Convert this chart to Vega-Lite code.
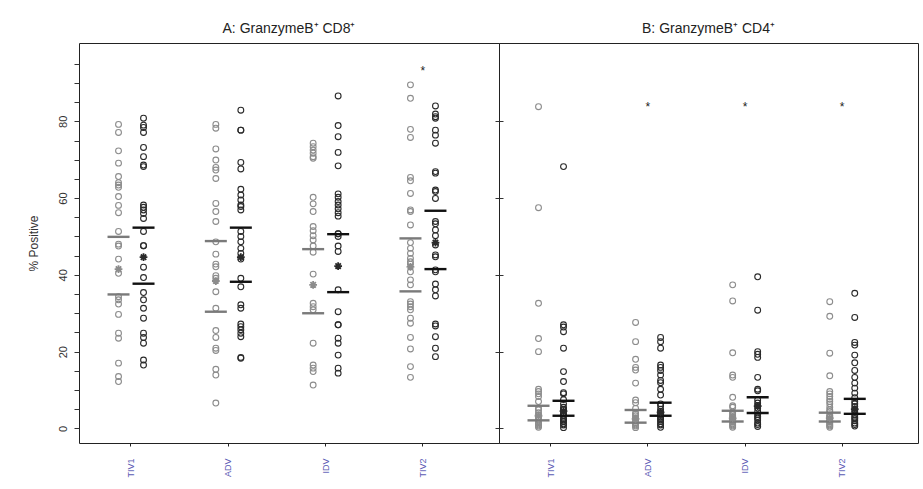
{
"$schema": "https://vega.github.io/schema/vega-lite/v6.json",
"background": "white",
"padding": {"left": 26, "top": 21, "right": 4, "bottom": 4},
"spacing": 0,
"bounds": "flush",
"datasets": {
"ptsA": [
{"group":"TIV1","series":"grey","value":79.2},{"group":"TIV1","series":"grey","value":77.1},{"group":"TIV1","series":"grey","value":72.3},{"group":"TIV1","series":"grey","value":69.1},{"group":"TIV1","series":"grey","value":65.6},{"group":"TIV1","series":"grey","value":64.0},{"group":"TIV1","series":"grey","value":63.4},{"group":"TIV1","series":"grey","value":62.8},{"group":"TIV1","series":"grey","value":60.4},{"group":"TIV1","series":"grey","value":58.1},{"group":"TIV1","series":"grey","value":56.2},{"group":"TIV1","series":"grey","value":51.3},{"group":"TIV1","series":"grey","value":48.0},{"group":"TIV1","series":"grey","value":47.5},{"group":"TIV1","series":"grey","value":44.1},{"group":"TIV1","series":"grey","value":40.4},{"group":"TIV1","series":"grey","value":34.3},{"group":"TIV1","series":"grey","value":33.5},{"group":"TIV1","series":"grey","value":32.4},{"group":"TIV1","series":"grey","value":29.7},{"group":"TIV1","series":"grey","value":24.8},{"group":"TIV1","series":"grey","value":23.5},{"group":"TIV1","series":"grey","value":17.0},{"group":"TIV1","series":"grey","value":13.5},{"group":"TIV1","series":"grey","value":12.2},
{"group":"TIV1","series":"black","value":80.8},{"group":"TIV1","series":"black","value":79.0},{"group":"TIV1","series":"black","value":78.4},{"group":"TIV1","series":"black","value":77.1},{"group":"TIV1","series":"black","value":73.2},{"group":"TIV1","series":"black","value":70.8},{"group":"TIV1","series":"black","value":68.6},{"group":"TIV1","series":"black","value":68.2},{"group":"TIV1","series":"black","value":58.2},{"group":"TIV1","series":"black","value":57.6},{"group":"TIV1","series":"black","value":56.9},{"group":"TIV1","series":"black","value":56.0},{"group":"TIV1","series":"black","value":54.7},{"group":"TIV1","series":"black","value":51.3},{"group":"TIV1","series":"black","value":47.6},{"group":"TIV1","series":"black","value":47.6},{"group":"TIV1","series":"black","value":42.0},{"group":"TIV1","series":"black","value":39.3},{"group":"TIV1","series":"black","value":35.4},{"group":"TIV1","series":"black","value":33.5},{"group":"TIV1","series":"black","value":31.3},{"group":"TIV1","series":"black","value":28.7},{"group":"TIV1","series":"black","value":24.8},{"group":"TIV1","series":"black","value":23.7},{"group":"TIV1","series":"black","value":22.2},{"group":"TIV1","series":"black","value":17.8},{"group":"TIV1","series":"black","value":16.5},
{"group":"ADV","series":"grey","value":79.2},{"group":"ADV","series":"grey","value":78.2},{"group":"ADV","series":"grey","value":72.8},{"group":"ADV","series":"grey","value":69.9},{"group":"ADV","series":"grey","value":68.0},{"group":"ADV","series":"grey","value":67.3},{"group":"ADV","series":"grey","value":65.1},{"group":"ADV","series":"grey","value":58.6},{"group":"ADV","series":"grey","value":56.5},{"group":"ADV","series":"grey","value":53.9},{"group":"ADV","series":"grey","value":48.6},{"group":"ADV","series":"grey","value":45.4},{"group":"ADV","series":"grey","value":42.8},{"group":"ADV","series":"grey","value":42.1},{"group":"ADV","series":"grey","value":39.8},{"group":"ADV","series":"grey","value":39.1},{"group":"ADV","series":"grey","value":35.6},{"group":"ADV","series":"grey","value":31.3},{"group":"ADV","series":"grey","value":25.5},{"group":"ADV","series":"grey","value":23.7},{"group":"ADV","series":"grey","value":20.9},{"group":"ADV","series":"grey","value":20.3},{"group":"ADV","series":"grey","value":15.4},{"group":"ADV","series":"grey","value":13.9},{"group":"ADV","series":"grey","value":6.6},
{"group":"ADV","series":"black","value":82.9},{"group":"ADV","series":"black","value":77.7},{"group":"ADV","series":"black","value":77.7},{"group":"ADV","series":"black","value":69.3},{"group":"ADV","series":"black","value":67.6},{"group":"ADV","series":"black","value":62.3},{"group":"ADV","series":"black","value":60.8},{"group":"ADV","series":"black","value":59.5},{"group":"ADV","series":"black","value":58.2},{"group":"ADV","series":"black","value":57.8},{"group":"ADV","series":"black","value":56.9},{"group":"ADV","series":"black","value":51.3},{"group":"ADV","series":"black","value":50.0},{"group":"ADV","series":"black","value":48.6},{"group":"ADV","series":"black","value":46.9},{"group":"ADV","series":"black","value":45.6},{"group":"ADV","series":"black","value":44.1},{"group":"ADV","series":"black","value":39.1},{"group":"ADV","series":"black","value":36.9},{"group":"ADV","series":"black","value":32.2},{"group":"ADV","series":"black","value":31.3},{"group":"ADV","series":"black","value":27.2},{"group":"ADV","series":"black","value":26.5},{"group":"ADV","series":"black","value":25.7},{"group":"ADV","series":"black","value":24.8},{"group":"ADV","series":"black","value":23.9},{"group":"ADV","series":"black","value":18.5},{"group":"ADV","series":"black","value":18.3},
{"group":"IDV","series":"grey","value":74.3},{"group":"IDV","series":"grey","value":73.4},{"group":"IDV","series":"grey","value":72.5},{"group":"IDV","series":"grey","value":71.7},{"group":"IDV","series":"grey","value":70.8},{"group":"IDV","series":"grey","value":70.4},{"group":"IDV","series":"grey","value":60.2},{"group":"IDV","series":"grey","value":58.5},{"group":"IDV","series":"grey","value":56.5},{"group":"IDV","series":"grey","value":52.6},{"group":"IDV","series":"grey","value":51.5},{"group":"IDV","series":"grey","value":50.2},{"group":"IDV","series":"grey","value":49.1},{"group":"IDV","series":"grey","value":47.5},{"group":"IDV","series":"grey","value":45.9},{"group":"IDV","series":"grey","value":40.2},{"group":"IDV","series":"grey","value":32.6},{"group":"IDV","series":"grey","value":31.7},{"group":"IDV","series":"grey","value":30.9},{"group":"IDV","series":"grey","value":22.2},{"group":"IDV","series":"grey","value":16.5},{"group":"IDV","series":"grey","value":15.7},{"group":"IDV","series":"grey","value":14.8},{"group":"IDV","series":"grey","value":11.3},
{"group":"IDV","series":"black","value":86.6},{"group":"IDV","series":"black","value":78.9},{"group":"IDV","series":"black","value":76.0},{"group":"IDV","series":"black","value":71.9},{"group":"IDV","series":"black","value":68.4},{"group":"IDV","series":"black","value":61.1},{"group":"IDV","series":"black","value":60.2},{"group":"IDV","series":"black","value":59.1},{"group":"IDV","series":"black","value":58.2},{"group":"IDV","series":"black","value":57.2},{"group":"IDV","series":"black","value":56.2},{"group":"IDV","series":"black","value":55.3},{"group":"IDV","series":"black","value":50.7},{"group":"IDV","series":"black","value":50.7},{"group":"IDV","series":"black","value":50.0},{"group":"IDV","series":"black","value":47.5},{"group":"IDV","series":"black","value":46.1},{"group":"IDV","series":"black","value":36.1},{"group":"IDV","series":"black","value":30.4},{"group":"IDV","series":"black","value":27.0},{"group":"IDV","series":"black","value":27.0},{"group":"IDV","series":"black","value":23.5},{"group":"IDV","series":"black","value":22.2},{"group":"IDV","series":"black","value":19.1},{"group":"IDV","series":"black","value":15.7},{"group":"IDV","series":"black","value":14.4},
{"group":"TIV2","series":"grey","value":89.5},{"group":"TIV2","series":"grey","value":86.0},{"group":"TIV2","series":"grey","value":77.9},{"group":"TIV2","series":"grey","value":75.8},{"group":"TIV2","series":"grey","value":65.4},{"group":"TIV2","series":"grey","value":64.5},{"group":"TIV2","series":"grey","value":61.2},{"group":"TIV2","series":"grey","value":56.9},{"group":"TIV2","series":"grey","value":56.5},{"group":"TIV2","series":"grey","value":53.0},{"group":"TIV2","series":"grey","value":48.4},{"group":"TIV2","series":"grey","value":46.9},{"group":"TIV2","series":"grey","value":45.6},{"group":"TIV2","series":"grey","value":44.3},{"group":"TIV2","series":"grey","value":43.4},{"group":"TIV2","series":"grey","value":42.8},{"group":"TIV2","series":"grey","value":40.8},{"group":"TIV2","series":"grey","value":38.7},{"group":"TIV2","series":"grey","value":37.4},{"group":"TIV2","series":"grey","value":33.0},{"group":"TIV2","series":"grey","value":32.4},{"group":"TIV2","series":"grey","value":31.7},{"group":"TIV2","series":"grey","value":30.9},{"group":"TIV2","series":"grey","value":28.7},{"group":"TIV2","series":"grey","value":27.4},{"group":"TIV2","series":"grey","value":23.7},{"group":"TIV2","series":"grey","value":20.7},{"group":"TIV2","series":"grey","value":16.1},{"group":"TIV2","series":"grey","value":13.3},
{"group":"TIV2","series":"black","value":84.0},{"group":"TIV2","series":"black","value":81.9},{"group":"TIV2","series":"black","value":81.2},{"group":"TIV2","series":"black","value":80.8},{"group":"TIV2","series":"black","value":77.7},{"group":"TIV2","series":"black","value":76.4},{"group":"TIV2","series":"black","value":74.3},{"group":"TIV2","series":"black","value":66.9},{"group":"TIV2","series":"black","value":66.5},{"group":"TIV2","series":"black","value":62.1},{"group":"TIV2","series":"black","value":61.7},{"group":"TIV2","series":"black","value":59.9},{"group":"TIV2","series":"black","value":53.9},{"group":"TIV2","series":"black","value":53.3},{"group":"TIV2","series":"black","value":51.7},{"group":"TIV2","series":"black","value":50.2},{"group":"TIV2","series":"black","value":47.8},{"group":"TIV2","series":"black","value":45.2},{"group":"TIV2","series":"black","value":44.7},{"group":"TIV2","series":"black","value":41.3},{"group":"TIV2","series":"black","value":40.8},{"group":"TIV2","series":"black","value":37.6},{"group":"TIV2","series":"black","value":36.1},{"group":"TIV2","series":"black","value":34.5},{"group":"TIV2","series":"black","value":27.2},{"group":"TIV2","series":"black","value":26.7},{"group":"TIV2","series":"black","value":23.9},{"group":"TIV2","series":"black","value":20.9},{"group":"TIV2","series":"black","value":18.7}
],
"ptsB": [
{"group":"TIV1","series":"grey","value":83.8},{"group":"TIV1","series":"grey","value":57.5},{"group":"TIV1","series":"grey","value":32.6},{"group":"TIV1","series":"grey","value":23.4},{"group":"TIV1","series":"grey","value":20.0},{"group":"TIV1","series":"grey","value":10.2},{"group":"TIV1","series":"grey","value":9.6},{"group":"TIV1","series":"grey","value":9.0},{"group":"TIV1","series":"grey","value":8.3},{"group":"TIV1","series":"grey","value":7.0},{"group":"TIV1","series":"grey","value":5.3},{"group":"TIV1","series":"grey","value":4.8},{"group":"TIV1","series":"grey","value":4.1},{"group":"TIV1","series":"grey","value":3.5},{"group":"TIV1","series":"grey","value":3.0},{"group":"TIV1","series":"grey","value":2.9},{"group":"TIV1","series":"grey","value":2.2},{"group":"TIV1","series":"grey","value":1.5},{"group":"TIV1","series":"grey","value":1.2},{"group":"TIV1","series":"grey","value":0.9},{"group":"TIV1","series":"grey","value":0.6},{"group":"TIV1","series":"grey","value":0.3},
{"group":"TIV1","series":"black","value":68.2},{"group":"TIV1","series":"black","value":27.0},{"group":"TIV1","series":"black","value":26.4},{"group":"TIV1","series":"black","value":25.2},{"group":"TIV1","series":"black","value":20.9},{"group":"TIV1","series":"black","value":14.8},{"group":"TIV1","series":"black","value":12.2},{"group":"TIV1","series":"black","value":9.3},{"group":"TIV1","series":"black","value":9.0},{"group":"TIV1","series":"black","value":7.5},{"group":"TIV1","series":"black","value":6.4},{"group":"TIV1","series":"black","value":5.5},{"group":"TIV1","series":"black","value":5.0},{"group":"TIV1","series":"black","value":4.8},{"group":"TIV1","series":"black","value":4.1},{"group":"TIV1","series":"black","value":3.8},{"group":"TIV1","series":"black","value":3.3},{"group":"TIV1","series":"black","value":2.6},{"group":"TIV1","series":"black","value":2.2},{"group":"TIV1","series":"black","value":1.8},{"group":"TIV1","series":"black","value":1.8},{"group":"TIV1","series":"black","value":1.2},{"group":"TIV1","series":"black","value":0.9},{"group":"TIV1","series":"black","value":0.2},
{"group":"ADV","series":"grey","value":27.6},{"group":"ADV","series":"grey","value":22.6},{"group":"ADV","series":"grey","value":18.0},{"group":"ADV","series":"grey","value":15.9},{"group":"ADV","series":"grey","value":15.2},{"group":"ADV","series":"grey","value":11.8},{"group":"ADV","series":"grey","value":7.4},{"group":"ADV","series":"grey","value":6.7},{"group":"ADV","series":"grey","value":5.2},{"group":"ADV","series":"grey","value":4.0},{"group":"ADV","series":"grey","value":3.7},{"group":"ADV","series":"grey","value":3.3},{"group":"ADV","series":"grey","value":2.8},{"group":"ADV","series":"grey","value":2.5},{"group":"ADV","series":"grey","value":2.2},{"group":"ADV","series":"grey","value":1.5},{"group":"ADV","series":"grey","value":1.2},{"group":"ADV","series":"grey","value":0.9},{"group":"ADV","series":"grey","value":0.6},{"group":"ADV","series":"grey","value":0.2},
{"group":"ADV","series":"black","value":23.7},{"group":"ADV","series":"black","value":22.6},{"group":"ADV","series":"black","value":20.9},{"group":"ADV","series":"black","value":16.5},{"group":"ADV","series":"black","value":15.9},{"group":"ADV","series":"black","value":15.1},{"group":"ADV","series":"black","value":13.9},{"group":"ADV","series":"black","value":12.5},{"group":"ADV","series":"black","value":11.9},{"group":"ADV","series":"black","value":10.2},{"group":"ADV","series":"black","value":8.7},{"group":"ADV","series":"black","value":6.4},{"group":"ADV","series":"black","value":5.9},{"group":"ADV","series":"black","value":5.0},{"group":"ADV","series":"black","value":4.4},{"group":"ADV","series":"black","value":4.0},{"group":"ADV","series":"black","value":3.6},{"group":"ADV","series":"black","value":3.0},{"group":"ADV","series":"black","value":2.6},{"group":"ADV","series":"black","value":2.2},{"group":"ADV","series":"black","value":1.8},{"group":"ADV","series":"black","value":1.2},{"group":"ADV","series":"black","value":0.9},{"group":"ADV","series":"black","value":0.3},
{"group":"IDV","series":"grey","value":37.4},{"group":"IDV","series":"grey","value":33.2},{"group":"IDV","series":"grey","value":19.7},{"group":"IDV","series":"grey","value":13.9},{"group":"IDV","series":"grey","value":13.3},{"group":"IDV","series":"grey","value":8.1},{"group":"IDV","series":"grey","value":5.9},{"group":"IDV","series":"grey","value":5.5},{"group":"IDV","series":"grey","value":4.3},{"group":"IDV","series":"grey","value":4.0},{"group":"IDV","series":"grey","value":3.5},{"group":"IDV","series":"grey","value":3.1},{"group":"IDV","series":"grey","value":2.8},{"group":"IDV","series":"grey","value":2.4},{"group":"IDV","series":"grey","value":2.0},{"group":"IDV","series":"grey","value":1.6},{"group":"IDV","series":"grey","value":1.2},{"group":"IDV","series":"grey","value":0.9},{"group":"IDV","series":"grey","value":0.6},{"group":"IDV","series":"grey","value":0.3},
{"group":"IDV","series":"black","value":39.5},{"group":"IDV","series":"black","value":30.8},{"group":"IDV","series":"black","value":20.0},{"group":"IDV","series":"black","value":19.3},{"group":"IDV","series":"black","value":18.5},{"group":"IDV","series":"black","value":13.3},{"group":"IDV","series":"black","value":10.2},{"group":"IDV","series":"black","value":9.8},{"group":"IDV","series":"black","value":7.4},{"group":"IDV","series":"black","value":6.6},{"group":"IDV","series":"black","value":5.9},{"group":"IDV","series":"black","value":5.3},{"group":"IDV","series":"black","value":4.5},{"group":"IDV","series":"black","value":3.6},{"group":"IDV","series":"black","value":3.1},{"group":"IDV","series":"black","value":2.7},{"group":"IDV","series":"black","value":2.2},{"group":"IDV","series":"black","value":1.4},{"group":"IDV","series":"black","value":1.0},{"group":"IDV","series":"black","value":0.5},
{"group":"TIV2","series":"grey","value":33.0},{"group":"TIV2","series":"grey","value":29.2},{"group":"TIV2","series":"grey","value":19.6},{"group":"TIV2","series":"grey","value":13.7},{"group":"TIV2","series":"grey","value":9.6},{"group":"TIV2","series":"grey","value":9.0},{"group":"TIV2","series":"grey","value":8.3},{"group":"TIV2","series":"grey","value":7.6},{"group":"TIV2","series":"grey","value":7.0},{"group":"TIV2","series":"grey","value":6.4},{"group":"TIV2","series":"grey","value":5.5},{"group":"TIV2","series":"grey","value":4.8},{"group":"TIV2","series":"grey","value":4.4},{"group":"TIV2","series":"grey","value":3.5},{"group":"TIV2","series":"grey","value":3.2},{"group":"TIV2","series":"grey","value":2.9},{"group":"TIV2","series":"grey","value":2.4},{"group":"TIV2","series":"grey","value":2.0},{"group":"TIV2","series":"grey","value":1.6},{"group":"TIV2","series":"grey","value":1.2},{"group":"TIV2","series":"grey","value":0.9},{"group":"TIV2","series":"grey","value":0.6},{"group":"TIV2","series":"grey","value":0.3},
{"group":"TIV2","series":"black","value":35.2},{"group":"TIV2","series":"black","value":28.9},{"group":"TIV2","series":"black","value":22.4},{"group":"TIV2","series":"black","value":21.7},{"group":"TIV2","series":"black","value":19.1},{"group":"TIV2","series":"black","value":17.1},{"group":"TIV2","series":"black","value":15.1},{"group":"TIV2","series":"black","value":13.3},{"group":"TIV2","series":"black","value":11.8},{"group":"TIV2","series":"black","value":10.5},{"group":"TIV2","series":"black","value":9.2},{"group":"TIV2","series":"black","value":8.0},{"group":"TIV2","series":"black","value":7.0},{"group":"TIV2","series":"black","value":6.4},{"group":"TIV2","series":"black","value":5.7},{"group":"TIV2","series":"black","value":4.8},{"group":"TIV2","series":"black","value":4.2},{"group":"TIV2","series":"black","value":3.5},{"group":"TIV2","series":"black","value":2.9},{"group":"TIV2","series":"black","value":2.5},{"group":"TIV2","series":"black","value":2.0},{"group":"TIV2","series":"black","value":1.4},{"group":"TIV2","series":"black","value":1.0},{"group":"TIV2","series":"black","value":0.6}
],
"statA": [
{"group":"TIV1","series":"grey","stat":"upper","value":49.9},{"group":"TIV1","series":"grey","stat":"lower","value":34.9},{"group":"TIV1","series":"grey","stat":"median","value":41.5},
{"group":"TIV1","series":"black","stat":"upper","value":52.3},{"group":"TIV1","series":"black","stat":"lower","value":37.7},{"group":"TIV1","series":"black","stat":"median","value":44.6},
{"group":"ADV","series":"grey","stat":"upper","value":48.8},{"group":"ADV","series":"grey","stat":"lower","value":30.4},{"group":"ADV","series":"grey","stat":"median","value":38.4},
{"group":"ADV","series":"black","stat":"upper","value":52.3},{"group":"ADV","series":"black","stat":"lower","value":38.2},{"group":"ADV","series":"black","stat":"median","value":44.6},
{"group":"IDV","series":"grey","stat":"upper","value":46.7},{"group":"IDV","series":"grey","stat":"lower","value":30.0},{"group":"IDV","series":"grey","stat":"median","value":37.4},
{"group":"IDV","series":"black","stat":"upper","value":50.6},{"group":"IDV","series":"black","stat":"lower","value":35.5},{"group":"IDV","series":"black","stat":"median","value":42.3},
{"group":"TIV2","series":"grey","stat":"upper","value":49.5},{"group":"TIV2","series":"grey","stat":"lower","value":35.7},{"group":"TIV2","series":"grey","stat":"median","value":42.1},
{"group":"TIV2","series":"black","stat":"upper","value":56.7},{"group":"TIV2","series":"black","stat":"lower","value":41.5},{"group":"TIV2","series":"black","stat":"median","value":48.4}
],
"statB": [
{"group":"TIV1","series":"grey","stat":"upper","value":5.9},{"group":"TIV1","series":"grey","stat":"lower","value":2.1},{"group":"TIV1","series":"grey","stat":"median","value":3.3},
{"group":"TIV1","series":"black","stat":"upper","value":7.2},{"group":"TIV1","series":"black","stat":"lower","value":3.3},{"group":"TIV1","series":"black","stat":"median","value":4.5},
{"group":"ADV","series":"grey","stat":"upper","value":4.8},{"group":"ADV","series":"grey","stat":"lower","value":1.5},{"group":"ADV","series":"grey","stat":"median","value":2.5},
{"group":"ADV","series":"black","stat":"upper","value":6.7},{"group":"ADV","series":"black","stat":"lower","value":3.3},{"group":"ADV","series":"black","stat":"median","value":4.2},
{"group":"IDV","series":"grey","stat":"upper","value":4.6},{"group":"IDV","series":"grey","stat":"lower","value":1.8},{"group":"IDV","series":"grey","stat":"median","value":2.6},
{"group":"IDV","series":"black","stat":"upper","value":8.1},{"group":"IDV","series":"black","stat":"lower","value":4.0},{"group":"IDV","series":"black","stat":"median","value":5.8},
{"group":"TIV2","series":"grey","stat":"upper","value":4.1},{"group":"TIV2","series":"grey","stat":"lower","value":1.8},{"group":"TIV2","series":"grey","stat":"median","value":2.7},
{"group":"TIV2","series":"black","stat":"upper","value":7.7},{"group":"TIV2","series":"black","stat":"lower","value":3.8},{"group":"TIV2","series":"black","stat":"median","value":5.0}
],
"sigA": [{"group":"TIV2","value":93.2,"label":"*"}],
"sigB": [{"group":"ADV","value":83.6,"label":"*"},{"group":"IDV","value":83.6,"label":"*"},{"group":"TIV2","value":83.6,"label":"*"}]
},
"hconcat": [
{
"width": 420, "height": 400,
"title": {"text": "A: GranzymeB⁺ CD8⁺"},
"resolve": {"axis": {"y": "independent"}},
"layer": [
{"data": {"name": "ptsA"},
 "mark": {"type": "point", "filled": false, "size": 34, "strokeWidth": 1.1, "opacity": 1},
 "encoding": {
  "x": {"field": "group", "type": "nominal", "sort": ["TIV1","ADV","IDV","TIV2"], "scale": {"type": "band", "paddingInner": 0, "paddingOuter": 0.158, "align": 0.108},
        "axis": {"title": null, "labelAngle": -90, "labelColor": "#5a5ab4", "labelFontSize": 9, "tickSize": 3, "labelPadding": 12, "domain": false, "tickColor": "#222", "bandPosition": 0.5}},
  "xOffset": {"field": "series", "type": "nominal", "sort": ["grey","black"], "scale": {"type": "point", "domain": ["grey","black"], "range": [36.2, 61.2], "padding": 0}},
  "y": {"field": "value", "type": "quantitative", "scale": {"domain": [-3.8, 100.4], "nice": false, "zero": false},
        "axis": {"title": "% Positive", "values": [0,5,10,15,20,25,30,35,40,45,50,55,60,65,70,75,80,85,90,95], "labelExpr": "datum.value % 20 === 0 ? datum.label : ''",
                 "labelAngle": -90, "labelAlign": "center", "labelBaseline": "bottom", "tickSize": 5, "labelPadding": 6, "titlePadding": 17, "domain": false, "grid": false}},
  "color": {"field": "series", "type": "nominal", "scale": {"domain": ["grey","black"], "range": ["#8c8c8c","#2a2a2a"]}, "legend": null}
 }},
{"data": {"name": "statA"}, "transform": [{"filter": "datum.stat !== 'median'"}],
 "mark": {"type": "tick", "thickness": 2.4, "size": 22, "opacity": 1},
 "encoding": {
  "x": {"field": "group", "type": "nominal", "sort": ["TIV1","ADV","IDV","TIV2"]},
  "xOffset": {"field": "series", "type": "nominal", "sort": ["grey","black"], "scale": {"type": "point", "domain": ["grey","black"], "range": [36.2, 61.2], "padding": 0}},
  "y": {"field": "value", "type": "quantitative", "axis": null},
  "fill": {"field": "series", "type": "nominal", "scale": {"domain": ["grey","black"], "range": ["#7a7a7a","#111111"]}, "legend": null}
 }},
{"data": {"name": "statA"}, "transform": [{"filter": "datum.stat === 'median'"}],
 "mark": {"type": "point", "shape": "M-1,0L1,0M0,-1L0,1M-0.7,-0.7L0.7,0.7M-0.7,0.7L0.7,-0.7", "filled": false, "size": 60, "strokeWidth": 1.8, "opacity": 1},
 "encoding": {
  "x": {"field": "group", "type": "nominal", "sort": ["TIV1","ADV","IDV","TIV2"]},
  "xOffset": {"field": "series", "type": "nominal", "sort": ["grey","black"], "scale": {"type": "point", "domain": ["grey","black"], "range": [36.2, 61.2], "padding": 0}},
  "y": {"field": "value", "type": "quantitative", "axis": null},
  "color": {"field": "series", "type": "nominal", "legend": null}
 }},
{"data": {"name": "sigA"},
 "mark": {"type": "text", "fontSize": 12, "fill": "#222", "baseline": "middle"},
 "encoding": {
  "x": {"field": "group", "type": "nominal", "sort": ["TIV1","ADV","IDV","TIV2"]},
  "y": {"field": "value", "type": "quantitative", "axis": {"orient": "right", "values": [0,20,40,60,80], "labels": false, "title": null, "tickSize": 4, "domain": false, "grid": false}},
  "text": {"field": "label"}
 }}
]
},
{
"width": 419, "height": 400,
"title": {"text": "B: GranzymeB⁺ CD4⁺"},
"layer": [
{"data": {"name": "ptsB"},
 "mark": {"type": "point", "filled": false, "size": 34, "strokeWidth": 1.1, "opacity": 1},
 "encoding": {
  "x": {"field": "group", "type": "nominal", "sort": ["TIV1","ADV","IDV","TIV2"], "scale": {"type": "band", "paddingInner": 0, "paddingOuter": 0.158, "align": 0.108},
        "axis": {"title": null, "labelAngle": -90, "labelColor": "#5a5ab4", "labelFontSize": 9, "tickSize": 3, "labelPadding": 12, "domain": false, "tickColor": "#222", "bandPosition": 0.5}},
  "xOffset": {"field": "series", "type": "nominal", "sort": ["grey","black"], "scale": {"type": "point", "domain": ["grey","black"], "range": [36.1, 61.1], "padding": 0}},
  "y": {"field": "value", "type": "quantitative", "scale": {"domain": [-3.8, 100.4], "nice": false, "zero": false},
        "axis": {"title": null, "values": [0,20,40,60,80], "labels": false, "tickSize": 4, "domain": false, "grid": false}},
  "color": {"field": "series", "type": "nominal", "scale": {"domain": ["grey","black"], "range": ["#8c8c8c","#2a2a2a"]}, "legend": null}
 }},
{"data": {"name": "statB"}, "transform": [{"filter": "datum.stat !== 'median'"}],
 "mark": {"type": "tick", "thickness": 2.4, "size": 22, "opacity": 1},
 "encoding": {
  "x": {"field": "group", "type": "nominal", "sort": ["TIV1","ADV","IDV","TIV2"]},
  "xOffset": {"field": "series", "type": "nominal", "sort": ["grey","black"], "scale": {"type": "point", "domain": ["grey","black"], "range": [36.1, 61.1], "padding": 0}},
  "y": {"field": "value", "type": "quantitative"},
  "fill": {"field": "series", "type": "nominal", "scale": {"domain": ["grey","black"], "range": ["#7a7a7a","#111111"]}, "legend": null}
 }},
{"data": {"name": "statB"}, "transform": [{"filter": "datum.stat === 'median'"}],
 "mark": {"type": "point", "shape": "M-1,0L1,0M0,-1L0,1M-0.7,-0.7L0.7,0.7M-0.7,0.7L0.7,-0.7", "filled": false, "size": 60, "strokeWidth": 1.8, "opacity": 1},
 "encoding": {
  "x": {"field": "group", "type": "nominal", "sort": ["TIV1","ADV","IDV","TIV2"]},
  "xOffset": {"field": "series", "type": "nominal", "sort": ["grey","black"], "scale": {"type": "point", "domain": ["grey","black"], "range": [36.1, 61.1], "padding": 0}},
  "y": {"field": "value", "type": "quantitative"},
  "color": {"field": "series", "type": "nominal", "legend": null}
 }},
{"data": {"name": "sigB"},
 "mark": {"type": "text", "fontSize": 12, "fill": "#222", "baseline": "middle"},
 "encoding": {
  "x": {"field": "group", "type": "nominal", "sort": ["TIV1","ADV","IDV","TIV2"]},
  "y": {"field": "value", "type": "quantitative"},
  "text": {"field": "label"}
 }}
]
}
],
"config": {
 "font": "Liberation Sans",
 "view": {"stroke": "#222", "strokeWidth": 1},
 "title": {"fontSize": 14, "fontWeight": "normal", "color": "#222", "offset": 7, "anchor": "middle", "font": "Liberation Sans"},
 "axis": {"labelFont": "Liberation Sans", "titleFont": "Liberation Sans", "labelColor": "#333", "titleColor": "#333", "labelFontSize": 11, "titleFontSize": 12, "titleFontWeight": "normal", "tickColor": "#333", "grid": false}
}
}
